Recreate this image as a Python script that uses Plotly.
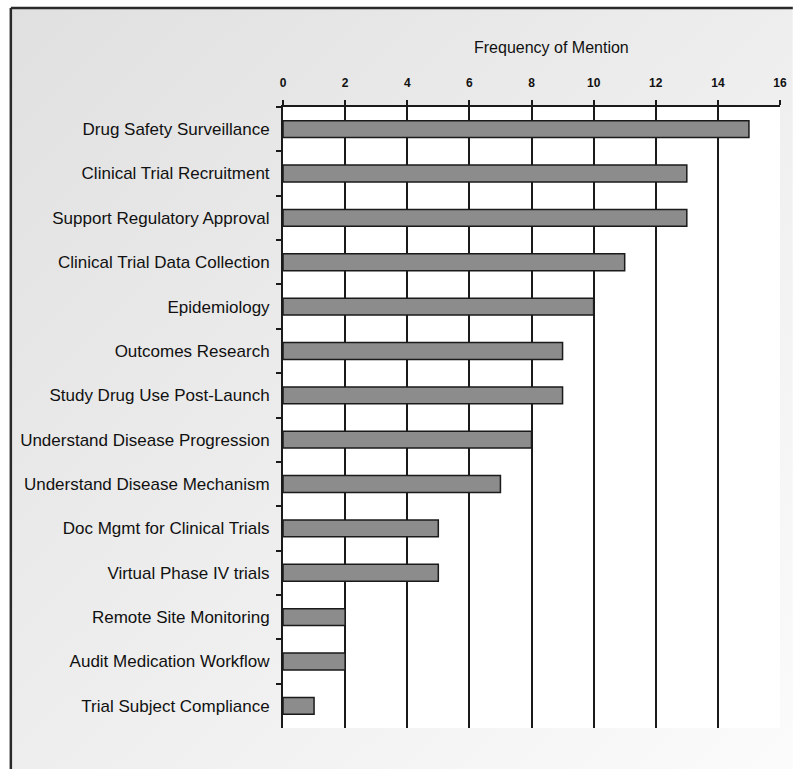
import plotly.graph_objects as go
import base64

categories = [
    "Drug Safety Surveillance",
    "Clinical Trial Recruitment",
    "Support Regulatory Approval",
    "Clinical Trial Data Collection",
    "Epidemiology",
    "Outcomes Research",
    "Study Drug Use Post-Launch",
    "Understand Disease Progression",
    "Understand Disease Mechanism",
    "Doc Mgmt for Clinical Trials",
    "Virtual Phase IV trials",
    "Remote Site Monitoring",
    "Audit Medication Workflow",
    "Trial Subject Compliance",
]
values = [15, 13, 13, 11, 10, 9, 9, 8, 7, 5, 5, 2, 2, 1]
x_ticks = [0, 2, 4, 6, 8, 10, 12, 14, 16]
axis_title = "Frequency of Mention"

FONT = "Liberation Sans Narrow, Arial Narrow, Liberation Sans, sans-serif"

W, H = 796, 774
L, R, T, B = 283, 9, 107, 46
pw = W - L - R
ph = H - T - B

def px_to_xpaper(px):
    return (px - L) / pw

def px_to_ypaper(py):
    return 1 - (py - T) / ph

svg = (
    '<svg xmlns="http://www.w3.org/2000/svg" width="100" height="100" preserveAspectRatio="none">'
    '<defs><linearGradient id="g" x1="0" y1="0" x2="1" y2="1">'
    '<stop offset="0" stop-color="#e0e0e0"/><stop offset="1" stop-color="#fbfbfb"/>'
    '</linearGradient></defs><rect width="100" height="100" fill="url(#g)"/></svg>'
)
src = "data:image/svg+xml;base64," + base64.b64encode(svg.encode()).decode()

fig = go.Figure()
fig.add_trace(go.Bar(
    x=values, y=categories, orientation="h",
    marker=dict(color="#8c8c8c", line=dict(color="#1a1a1a", width=1.5)),
    width=0.38,
))

bx0, bx1 = px_to_xpaper(7), px_to_xpaper(800)
by0, by1 = px_to_ypaper(769), px_to_ypaper(8)

fig.add_layout_image(dict(
    source=src, xref="paper", yref="paper",
    x=bx0, y=by1, sizex=bx1 - bx0, sizey=by1 - by0,
    sizing="stretch", xanchor="left", yanchor="top", layer="below",
))

fig.add_shape(type="rect", xref="paper", yref="paper", x0=0, x1=1, y0=0, y1=1,
              fillcolor="white", line=dict(width=0), layer="below")
fig.add_shape(type="line", xref="paper", yref="paper", x0=bx0, x1=bx1, y0=by1, y1=by1,
              line=dict(color="#2a2a2a", width=2.5))
fig.add_shape(type="line", xref="paper", yref="paper", x0=bx0, x1=bx0, y0=by0, y1=by1,
              line=dict(color="#2a2a2a", width=2.5))

fig.add_annotation(text=axis_title, xref="paper", yref="paper",
                   x=px_to_xpaper(555), y=px_to_ypaper(47),
                   showarrow=False, xanchor="center", yanchor="middle",
                   font=dict(family=FONT, size=16, color="#111"))

fig.update_xaxes(
    side="top", range=[0, 16], tickvals=x_ticks, ticktext=[str(v) for v in x_ticks],
    showgrid=True, gridcolor="#1a1a1a", gridwidth=2,
    showline=True, linecolor="#1a1a1a", linewidth=2,
    ticks="outside", ticklen=5, tickcolor="#1a1a1a", tickwidth=2,
    tickfont=dict(family=FONT, size=12, color="#111", weight="bold"),
    ticklabelstandoff=8, zeroline=False, fixedrange=True,
)
fig.update_yaxes(
    categoryorder="array", categoryarray=categories, autorange="reversed",
    showgrid=False, showline=True, linecolor="#1a1a1a", linewidth=2,
    ticks="outside", ticklen=5, tickcolor="#1a1a1a", tickwidth=2, tickson="boundaries",
    tickfont=dict(family=FONT, size=17, color="#111"),
    ticklabelstandoff=8, fixedrange=True,
)
fig.update_layout(
    width=W, height=H, margin=dict(l=L, r=R, t=T, b=B),
    paper_bgcolor="white", plot_bgcolor="rgba(0,0,0,0)",
    showlegend=False, bargap=0.62,
)
fig.write_html("out.html", config={"displayModeBar": False})
